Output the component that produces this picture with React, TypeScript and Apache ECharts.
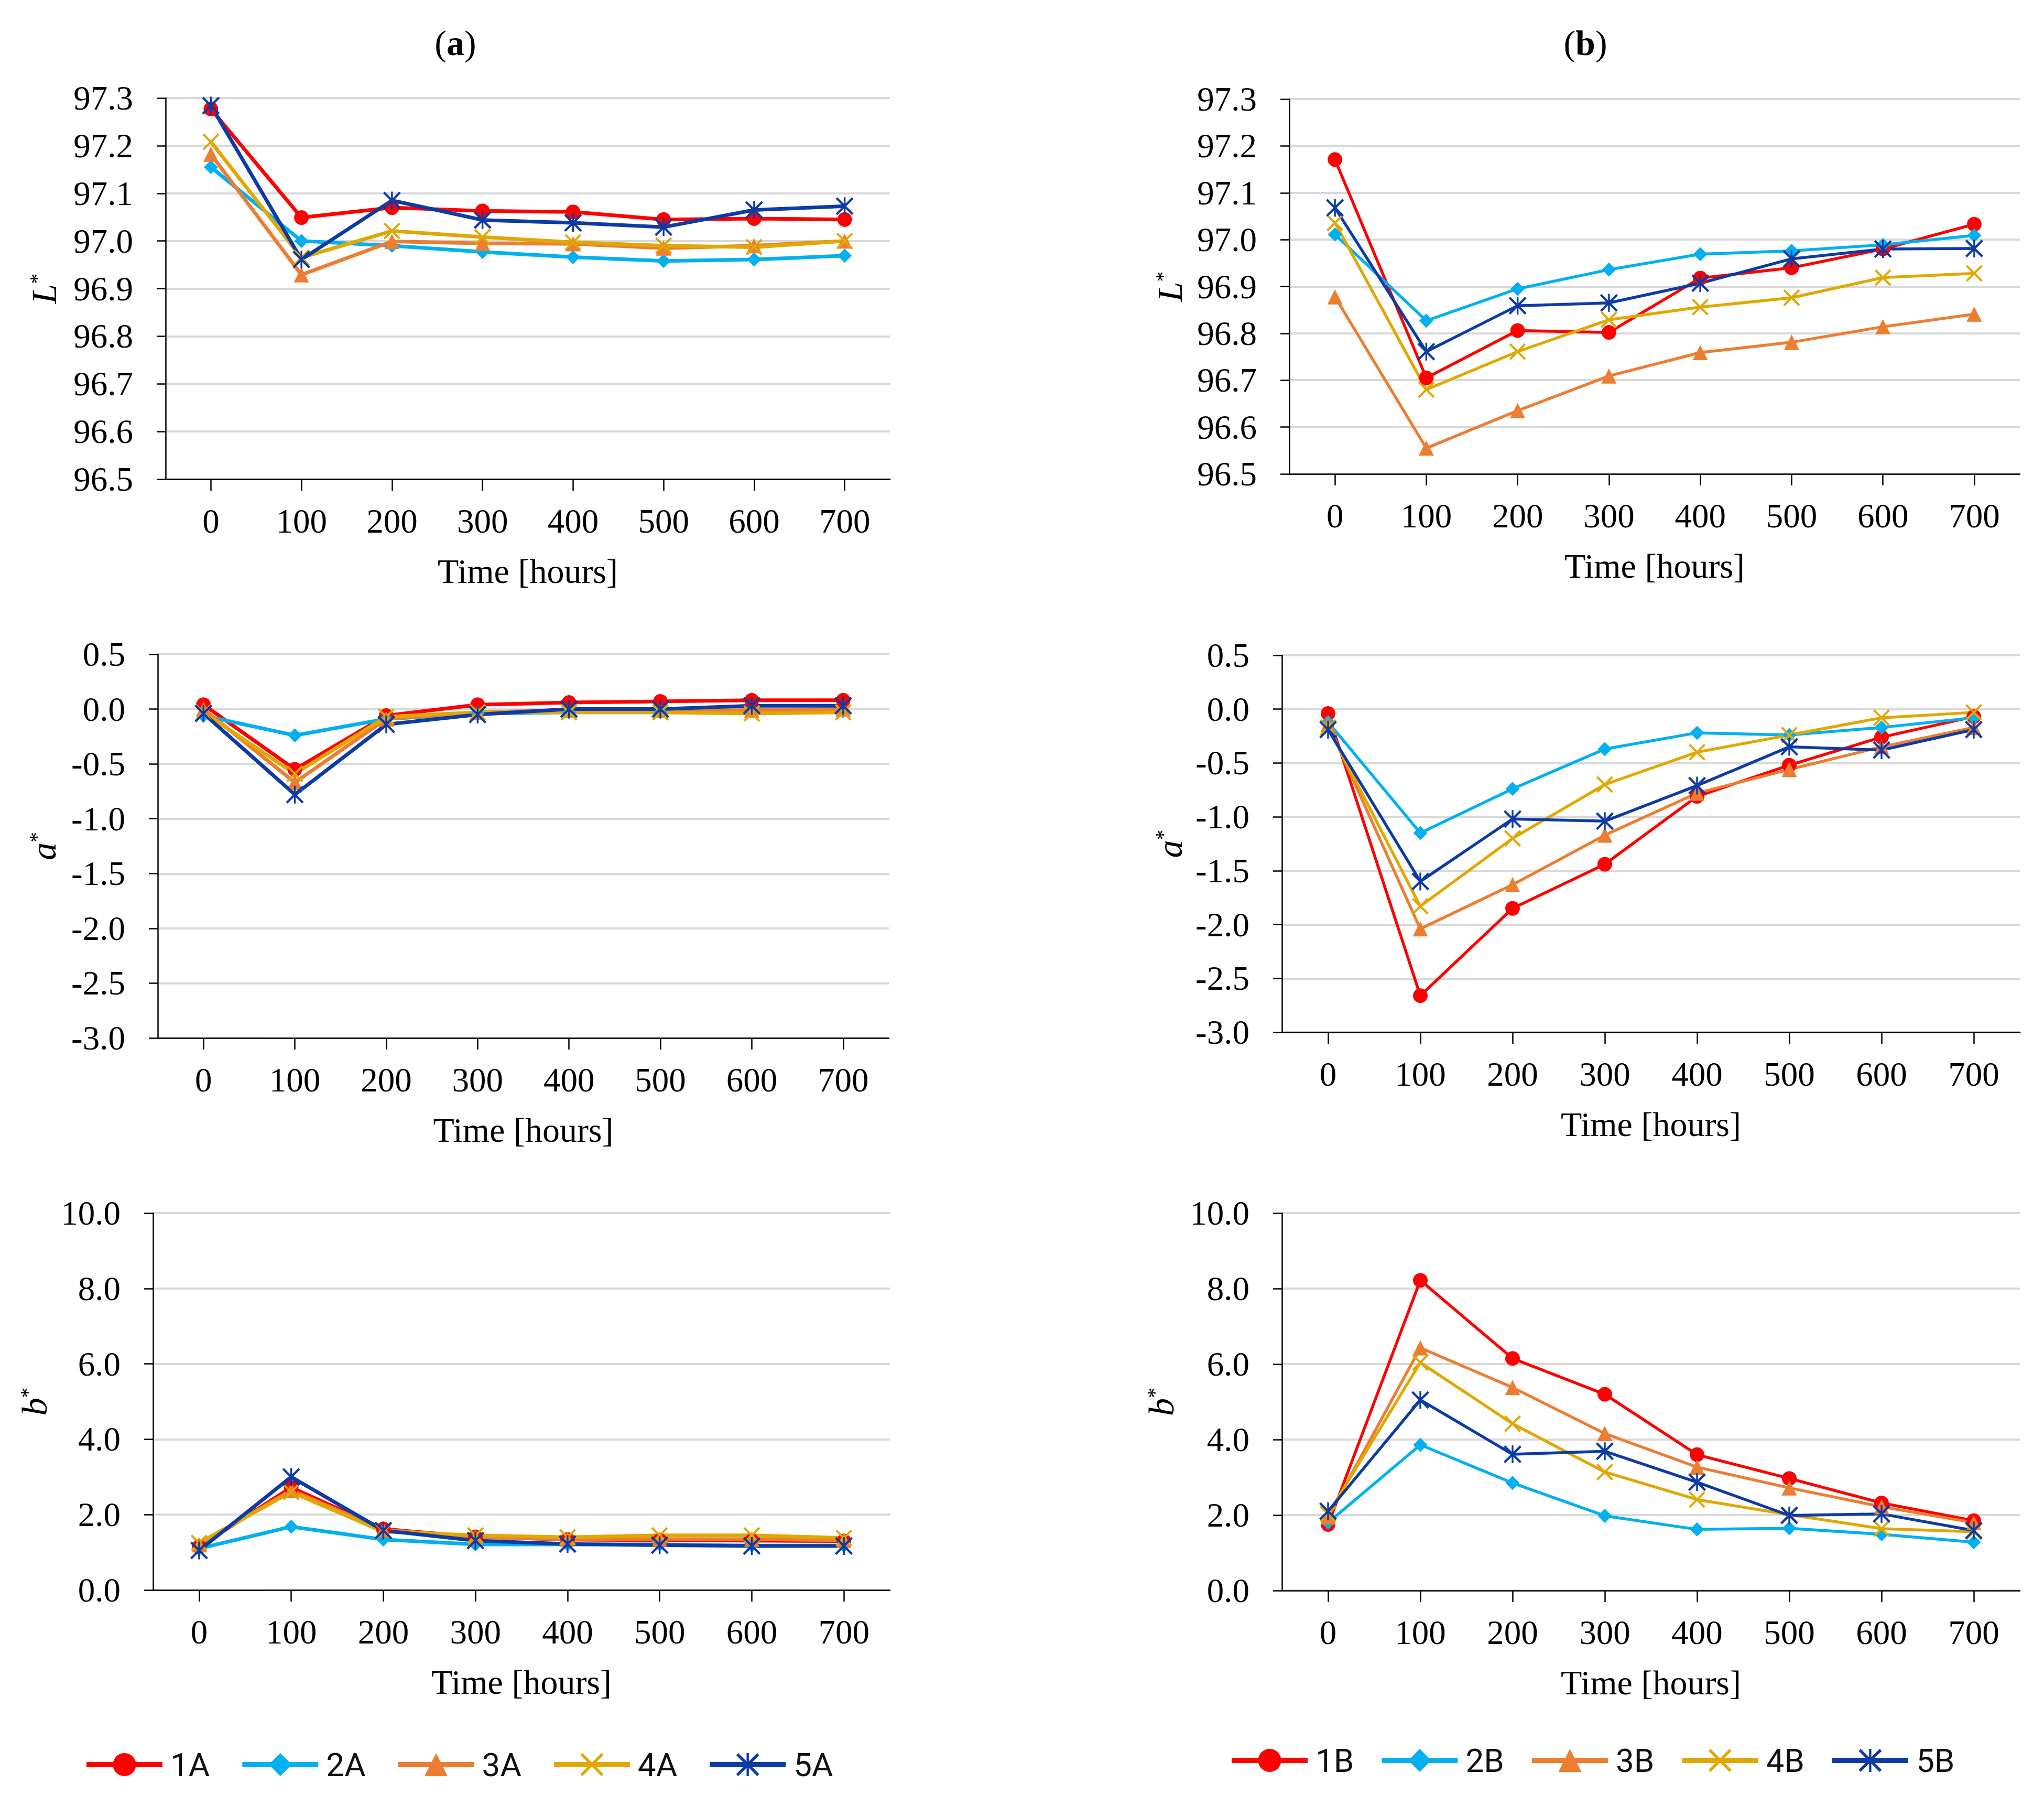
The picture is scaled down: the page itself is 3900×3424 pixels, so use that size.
import React, { useEffect, useRef } from 'react';
import * as echarts from 'echarts';

const hours = ['0', '100', '200', '300', '400', '500', '600', '700'];
const namesA = ['1A', '2A', '3A', '4A', '5A'];
const namesB = ['1B', '2B', '3B', '4B', '5B'];

// L* values
const L_1A = [97.277, 97.049, 97.07, 97.063, 97.061, 97.045, 97.047, 97.045];
const L_2A = [97.155, 97.0, 96.99, 96.977, 96.966, 96.958, 96.961, 96.969];
const L_3A = [97.182, 96.929, 96.999, 96.995, 96.994, 96.985, 96.99, 97.0];
const L_4A = [97.208, 96.965, 97.021, 97.008, 96.997, 96.99, 96.987, 97.0];
const L_5A = [97.284, 96.961, 97.085, 97.044, 97.038, 97.029, 97.065, 97.073];
const L_1B = [97.171, 96.705, 96.806, 96.802, 96.918, 96.94, 96.98, 97.033];
const L_2B = [97.011, 96.827, 96.895, 96.936, 96.969, 96.976, 96.989, 97.009];
const L_3B = [96.878, 96.555, 96.635, 96.709, 96.759, 96.781, 96.814, 96.841];
const L_4B = [97.036, 96.68, 96.761, 96.829, 96.856, 96.876, 96.919, 96.928];
const L_5B = [97.068, 96.761, 96.859, 96.865, 96.907, 96.959, 96.98, 96.981];

// a* values
const a_1A = [0.04, -0.55, -0.06, 0.04, 0.06, 0.07, 0.08, 0.08];
const a_2A = [-0.06, -0.24, -0.09, -0.04, -0.03, -0.03, -0.02, -0.02];
const a_3A = [0.0, -0.67, -0.09, -0.03, -0.01, -0.01, -0.01, 0.0];
const a_4A = [-0.03, -0.59, -0.07, -0.03, -0.03, -0.03, -0.04, -0.03];
const a_5A = [-0.04, -0.78, -0.14, -0.05, 0.0, 0.0, 0.03, 0.03];
const a_1B = [-0.04, -2.66, -1.85, -1.44, -0.81, -0.52, -0.26, -0.07];
const a_2B = [-0.12, -1.15, -0.74, -0.37, -0.22, -0.24, -0.17, -0.08];
const a_3B = [-0.14, -2.04, -1.63, -1.17, -0.78, -0.56, -0.35, -0.17];
const a_4B = [-0.17, -1.83, -1.2, -0.7, -0.4, -0.24, -0.08, -0.03];
const a_5B = [-0.19, -1.6, -1.02, -1.04, -0.71, -0.35, -0.38, -0.19];

// b* values
const b_1A = [1.15, 2.72, 1.62, 1.41, 1.34, 1.32, 1.31, 1.3];
const b_2A = [1.1, 1.68, 1.34, 1.21, 1.21, 1.21, 1.18, 1.18];
const b_3A = [1.2, 2.65, 1.6, 1.4, 1.35, 1.35, 1.35, 1.32];
const b_4A = [1.25, 2.6, 1.55, 1.45, 1.4, 1.45, 1.45, 1.38];
const b_5A = [1.05, 3.0, 1.58, 1.31, 1.22, 1.19, 1.17, 1.17];
const b_1B = [1.75, 8.22, 6.15, 5.2, 3.6, 2.97, 2.32, 1.85];
const b_2B = [1.8, 3.86, 2.85, 1.98, 1.62, 1.65, 1.49, 1.28];
const b_3B = [1.95, 6.43, 5.38, 4.16, 3.27, 2.72, 2.22, 1.8];
const b_4B = [2.03, 6.04, 4.42, 3.14, 2.41, 2.01, 1.64, 1.56];
const b_5B = [2.1, 5.05, 3.61, 3.69, 2.87, 1.99, 2.03, 1.59];

const X_PATH = 'path://M0,9L9,0L100,91L91,100Z M91,0L100,9L9,100L0,91Z';
const STAR_PATH =
  'path://M0,9L9,0L100,91L91,100Z M91,0L100,9L9,100L0,91Z M45,0L55,0L55,100L45,100Z';

const COLORS = ['#FF0000', '#00B0F0', '#ED7D31', '#E0A800', '#0D3BA6'];
const SYMBOLS = ['circle', 'diamond', 'triangle', X_PATH, STAR_PATH];
const SIZES = [28, 27, 29, 32, 34];

const SERIF = "'Liberation Serif', 'Times New Roman', serif";
const SANS = "Roboto, 'Liberation Sans', sans-serif";

const Y_DEFS: Record<string, any> = {
  L: { min: 96.5, max: 97.3, interval: 0.1, letter: 'L' },
  a: { min: -3, max: 0.5, interval: 0.5, letter: 'a' },
  b: { min: 0, max: 10, interval: 2, letter: 'b' },
};

const PANELS = [
  { grid: { left: 316, top: 187, width: 1382, height: 727 }, y: 'L', gap: 198, names: namesA, data: [L_1A, L_2A, L_3A, L_4A, L_5A] },
  { grid: { left: 2460, top: 189, width: 1394, height: 715 }, y: 'L', gap: 194, names: namesB, data: [L_1B, L_2B, L_3B, L_4B, L_5B] },
  { grid: { left: 301, top: 1248, width: 1395, height: 732 }, y: 'a', gap: 184, names: namesA, data: [a_1A, a_2A, a_3A, a_4A, a_5A] },
  { grid: { left: 2446, top: 1250, width: 1408, height: 719 }, y: 'a', gap: 180, names: namesB, data: [a_1B, a_2B, a_3B, a_4B, a_5B] },
  { grid: { left: 292, top: 2314, width: 1406, height: 719 }, y: 'b', gap: 192, names: namesA, data: [b_1A, b_2A, b_3A, b_4A, b_5A] },
  { grid: { left: 2446, top: 2314, width: 1408, height: 720 }, y: 'b', gap: 196, names: namesB, data: [b_1B, b_2B, b_3B, b_4B, b_5B] },
];

function buildOption() {
  const grid: any[] = [];
  const xAxis: any[] = [];
  const yAxis: any[] = [];
  const series: any[] = [];
  PANELS.forEach((p, i) => {
    grid.push({ ...p.grid, containLabel: false });
    xAxis.push({
      type: 'category',
      gridIndex: i,
      data: hours,
      boundaryGap: true,
      axisLine: { show: true, onZero: false, lineStyle: { color: '#000', width: 2.5 } },
      axisTick: { show: true, alignWithLabel: true, length: 22, lineStyle: { color: '#000', width: 2.5 } },
      axisLabel: { margin: 47, fontSize: 65, fontFamily: SERIF, color: '#000' },
      splitLine: { show: false },
      name: 'Time [hours]',
      nameLocation: 'middle',
      nameGap: 142,
      nameTextStyle: { fontSize: 66, fontFamily: SERIF, color: '#000' },
    });
    const yd = Y_DEFS[p.y];
    yAxis.push({
      type: 'value',
      gridIndex: i,
      min: yd.min,
      max: yd.max,
      interval: yd.interval,
      axisLine: { show: true, onZero: false, lineStyle: { color: '#000', width: 2.5 } },
      axisTick: { show: true, length: 17, lineStyle: { color: '#000', width: 2.5 } },
      axisLabel: {
        margin: 62,
        fontSize: 65,
        fontFamily: SERIF,
        color: '#000',
        formatter: (v: number) => v.toFixed(1),
      },
      splitLine: { show: true, lineStyle: { color: '#D9D9D9', width: 4 } },
      name: '{v|' + yd.letter + '}{s|*}',
      nameLocation: 'middle',
      nameRotate: 90,
      nameGap: p.gap,
      nameTextStyle: {
        rich: {
          v: { fontSize: 68, fontFamily: SERIF, fontStyle: 'italic', color: '#000' },
          s: { fontSize: 40, fontFamily: SERIF, color: '#000', verticalAlign: 'top' },
        },
      },
    });
    p.data.forEach((vals, k) => {
      series.push({
        type: 'line',
        name: p.names[k],
        xAxisIndex: i,
        yAxisIndex: i,
        data: vals,
        symbol: SYMBOLS[k],
        symbolSize: SIZES[k],
        showSymbol: true,
        color: COLORS[k],
        lineStyle: { color: COLORS[k], width: i % 2 === 0 ? 7 : 5.5 },
        itemStyle: { color: COLORS[k], borderWidth: 0 },
        emphasis: { disabled: true },
      });
    });
  });

  const legendBase = {
    orient: 'horizontal',
    itemWidth: 145,
    itemHeight: 55,
    lineStyle: { width: 10 },
    textStyle: { fontSize: 62, fontFamily: SANS, color: '#111', padding: [0, 0, 0, 10] },
  };

  const titleText = (letter: string, x: number) => ({
    type: 'text',
    x,
    y: 82,
    style: {
      text: '{n|(}{b|' + letter + '}{n|)}',
      rich: {
        n: { fontSize: 68, fontFamily: SERIF, fill: '#000' },
        b: { fontSize: 68, fontFamily: SERIF, fontWeight: 'bold', fill: '#000' },
      },
      align: 'center',
      verticalAlign: 'middle',
      textAlign: 'center',
      textVerticalAlign: 'middle',
    },
  });

  return {
    animation: false,
    backgroundColor: '#fff',
    grid,
    xAxis,
    yAxis,
    series,
    legend: [
      { ...legendBase, data: namesA, left: 155, top: 3330, itemGap: 57 },
      { ...legendBase, data: namesB, left: 2340, top: 3322, itemGap: 48 },
    ],
    graphic: [titleText('a', 869), titleText('b', 3025)],
  };
}

export default function App() {
  const ref = useRef<HTMLDivElement>(null);
  useEffect(() => {
    if (!ref.current) return;
    const chart = echarts.init(ref.current, null, { renderer: 'svg' });
    chart.setOption(buildOption() as any);
    return () => chart.dispose();
  }, []);
  return (
    <div
      ref={ref}
      style={{ position: 'absolute', left: 0, top: 0, width: 3900, height: 3424, background: '#fff' }}
    />
  );
}
